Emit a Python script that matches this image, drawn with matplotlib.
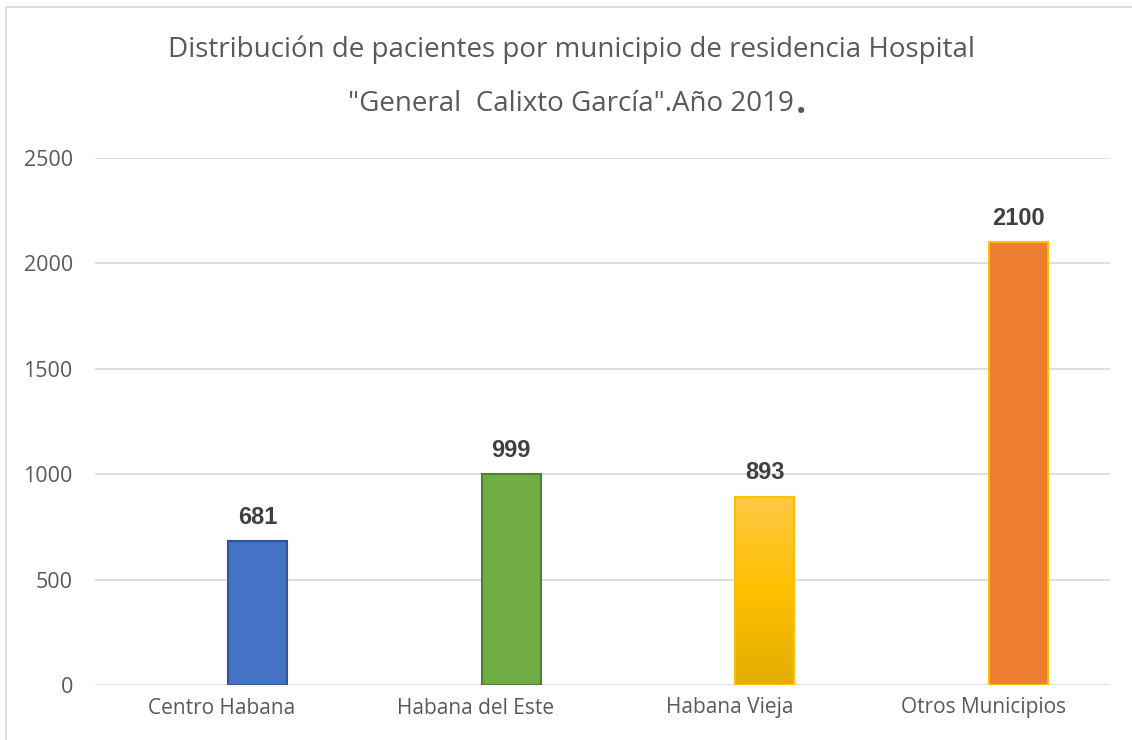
import matplotlib
matplotlib.use("Agg")
import matplotlib.pyplot as plt
import numpy as np
from matplotlib.patches import Rectangle
from matplotlib.colors import LinearSegmentedColormap

categories = ["Centro Habana", "Habana del Este", "Habana Vieja", "Otros Municipios"]
values = [681, 999, 893, 2100]
yticks = [0, 500, 1000, 1500, 2000, 2500]
title_line1 = 'Distribución de pacientes por municipio de residencia Hospital'
title_line2 = '"General  Calixto García".Año 2019'

face_colors = ["#4472C4", "#70AD47", "#FFC000", "#ED7D31"]
edge_colors = ["#2F5597", "#507E32", "#FFC000", "#FFC000"]

fig = plt.figure(figsize=(11.32, 7.4), dpi=100)
fig.patch.set_facecolor("white")
ax = fig.add_axes([95/1132, 1-685/740, (1110-95)/1132, (685-158)/740])

x = np.arange(len(categories))
offset = 0.14
bars = ax.bar(x + offset, values, width=0.232, color=face_colors, edgecolor=edge_colors,
              linewidth=1.5, zorder=3)

# gradient for Habana Vieja
grad = LinearSegmentedColormap.from_list("g", ["#E2AE00", "#FFC000", "#FFC845"])
b = bars[2]
bx, bw, bh = b.get_x(), b.get_width(), b.get_height()
im = ax.imshow(np.linspace(0, 1, 256).reshape(-1, 1), cmap=grad, origin="lower",
               extent=[bx, bx + bw, 0, bh], aspect="auto", zorder=3.5)
im.set_clip_path(b)
ax.add_patch(Rectangle((bx, 0), bw, bh, fill=False, edgecolor="#FFC000",
                       linewidth=1.5, zorder=4))

for xi, v in zip(x, values):
    ax.text(xi + offset, v + 60, f"{v}", ha="center", va="bottom", fontsize=17,
            fontweight="bold", color="#404040", family="Liberation Sans", zorder=5)

ax.set_xlim(-0.5, len(categories) - 0.5)
ax.set_ylim(0, 2500)
ax.set_yticks(yticks)
ax.set_xticks(x)
ax.set_xticklabels(categories)
for lbl in ax.get_xticklabels():
    lbl.set_fontsize(15)
    lbl.set_color("#595959")
    lbl.set_family("Open Sans")
for lbl in ax.get_yticklabels():
    lbl.set_fontsize(15.5)
    lbl.set_color("#595959")
    lbl.set_family("Open Sans")
ax.tick_params(axis="both", length=0)
ax.tick_params(axis="y", pad=16)
ax.tick_params(axis="x", pad=9)
ax.grid(axis="y", color="#D9D9D9", linewidth=1.2, zorder=0)
for s in ax.spines.values():
    s.set_visible(False)
ax.set_facecolor("white")

fig.text(572/1132, 1-50/740, title_line1, ha="center", va="center", fontsize=20,
         color="#595959", family="Open Sans")
t2 = fig.text(571/1132, 1-104/740, title_line2, ha="center", va="center", fontsize=20,
              color="#595959", family="Open Sans")
fig.canvas.draw()
bb = t2.get_window_extent()
fig.text(bb.x1 / fig.bbox.width + 2/1132, 1-104/740, ".", ha="left", va="center",
         fontsize=26, fontweight="bold", color="#595959", family="Open Sans")

fig.patches.append(Rectangle((6/1132, -0.1), 1.2, 1.1 - 7/740, transform=fig.transFigure,
                             fill=False, edgecolor="#D9D9D9", linewidth=1.2))

fig.savefig("out.png", dpi=100)
